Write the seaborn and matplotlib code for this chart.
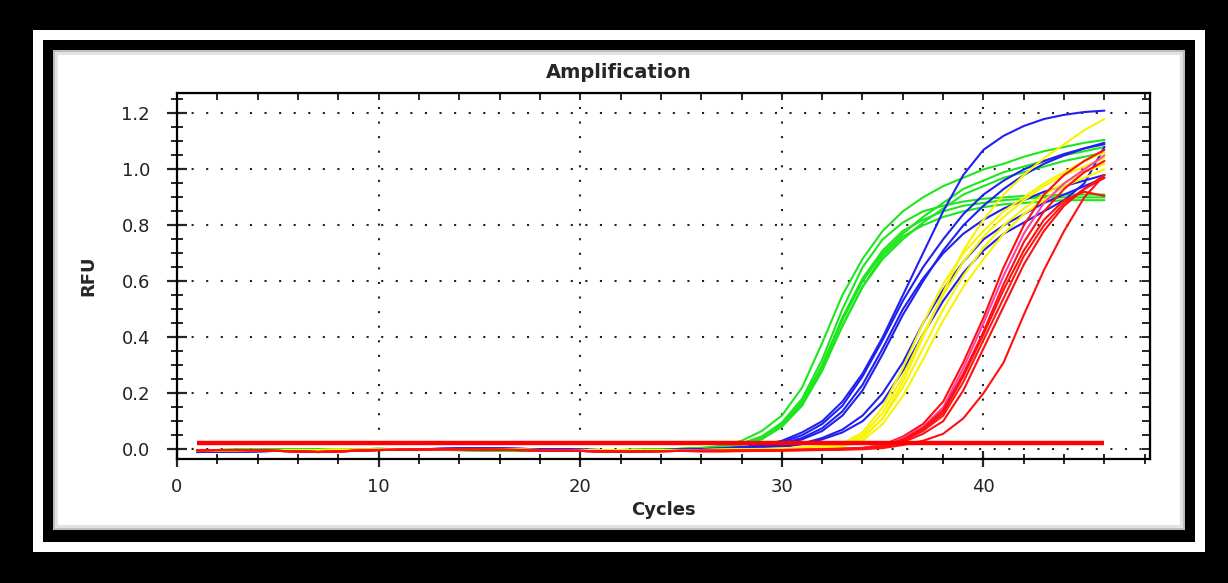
import numpy as np
import pandas as pd
import matplotlib
matplotlib.use("Agg")
import matplotlib.pyplot as plt
import seaborn as sns
from matplotlib.patches import Rectangle
from matplotlib.ticker import MultipleLocator

cycles = list(range(1, 47))
threshold = 0.022

# baseline readings, cycles 1-25, one per dye
base_green = [-0.004, -0.003, -0.002, -0.002, -0.001, -0.001, 0.0, 0.0, 0.0, 0.001, 0.0, -0.001, -0.002,
              -0.003, -0.004, -0.005, -0.005, -0.005, -0.005, -0.004, -0.004, -0.003, -0.002, -0.001, 0.001]
base_blue = [-0.010, -0.009, -0.008, -0.007, -0.006, -0.005, -0.004, -0.003, -0.002, -0.002, -0.001, 0.0, 0.001,
             0.002, 0.002, 0.002, 0.001, 0.0, -0.001, -0.002, -0.003, -0.003, -0.003, -0.003, -0.002]
base_yellow = [-0.006, -0.005, -0.005, -0.004, -0.004, -0.003, -0.003, -0.002, -0.002, -0.002, -0.001, -0.001, 0.0,
               0.0, 0.0, -0.001, -0.002, -0.003, -0.004, -0.005, -0.005, -0.005, -0.004, -0.004, -0.003]
base_red = [-0.004, -0.003, -0.003, -0.004, -0.006, -0.008, -0.010, -0.008, -0.005, -0.003, -0.002, -0.001, 0.0,
            0.0, -0.001, -0.002, -0.003, -0.004, -0.005, -0.006, -0.008, -0.009, -0.008, -0.007, -0.006]

# readings, cycles 26-46
green_rise = [
    [0.005, 0.012, 0.03, 0.065, 0.12, 0.22, 0.38, 0.55, 0.68, 0.78, 0.85, 0.90, 0.94, 0.97, 1.0, 1.02, 1.045, 1.065, 1.08, 1.095, 1.105],
    [0.003, 0.008, 0.02, 0.045, 0.09, 0.17, 0.30, 0.46, 0.60, 0.70, 0.77, 0.83, 0.88, 0.93, 0.96, 0.99, 1.01, 1.03, 1.05, 1.065, 1.08],
    [0.003, 0.007, 0.018, 0.04, 0.085, 0.16, 0.29, 0.44, 0.58, 0.68, 0.75, 0.81, 0.86, 0.91, 0.94, 0.97, 0.99, 1.01, 1.03, 1.045, 1.06],
    [0.003, 0.008, 0.02, 0.045, 0.095, 0.18, 0.32, 0.50, 0.65, 0.75, 0.81, 0.85, 0.87, 0.885, 0.895, 0.90, 0.905, 0.905, 0.91, 0.91, 0.91],
    [0.003, 0.007, 0.02, 0.04, 0.085, 0.165, 0.30, 0.47, 0.61, 0.71, 0.78, 0.82, 0.85, 0.87, 0.88, 0.89, 0.895, 0.90, 0.90, 0.90, 0.90],
    [0.002, 0.006, 0.015, 0.035, 0.08, 0.155, 0.28, 0.44, 0.58, 0.69, 0.76, 0.80, 0.83, 0.85, 0.865, 0.875, 0.88, 0.885, 0.89, 0.89, 0.89],
]
blue_rise = [
    [0.0, 0.003, 0.008, 0.015, 0.03, 0.06, 0.10, 0.17, 0.27, 0.40, 0.55, 0.70, 0.85, 0.98, 1.07, 1.12, 1.155, 1.18, 1.195, 1.205, 1.21],
    [0.0, 0.002, 0.006, 0.012, 0.025, 0.05, 0.09, 0.155, 0.26, 0.39, 0.53, 0.65, 0.75, 0.84, 0.91, 0.96, 1.0, 1.03, 1.055, 1.075, 1.09],
    [0.0, 0.002, 0.005, 0.01, 0.02, 0.04, 0.075, 0.135, 0.23, 0.36, 0.50, 0.61, 0.70, 0.77, 0.82, 0.86, 0.89, 0.92, 0.94, 0.96, 0.98],
    [-0.002, 0.0, 0.004, 0.008, 0.015, 0.035, 0.065, 0.12, 0.21, 0.34, 0.48, 0.60, 0.71, 0.80, 0.87, 0.93, 0.98, 1.02, 1.05, 1.075, 1.095],
    [-0.003, -0.002, 0.0, 0.004, 0.01, 0.02, 0.04, 0.07, 0.12, 0.20, 0.31, 0.45, 0.57, 0.67, 0.75, 0.80, 0.84, 0.88, 0.91, 0.94, 0.97],
    [-0.004, -0.003, -0.001, 0.003, 0.008, 0.018, 0.035, 0.06, 0.10, 0.17, 0.28, 0.41, 0.53, 0.63, 0.71, 0.77, 0.81, 0.85, 0.89, 0.95, 1.08],
]
yellow_rise = [
    [-0.003, -0.002, 0.0, 0.0, 0.002, 0.005, 0.008, 0.015, 0.04, 0.11, 0.24, 0.40, 0.56, 0.71, 0.82, 0.91, 0.98, 1.04, 1.09, 1.14, 1.18],
    [-0.003, -0.002, 0.0, 0.001, 0.003, 0.006, 0.01, 0.02, 0.06, 0.15, 0.29, 0.45, 0.59, 0.70, 0.78, 0.85, 0.90, 0.95, 0.99, 1.03, 1.06],
    [-0.003, -0.002, -0.001, 0.0, 0.002, 0.005, 0.008, 0.015, 0.05, 0.13, 0.26, 0.41, 0.55, 0.67, 0.76, 0.83, 0.89, 0.94, 0.98, 1.01, 1.04],
    [-0.003, -0.002, -0.001, 0.0, 0.001, 0.004, 0.007, 0.012, 0.04, 0.11, 0.22, 0.36, 0.50, 0.62, 0.72, 0.80, 0.86, 0.91, 0.95, 0.99, 1.02],
    [-0.003, -0.002, -0.002, -0.001, 0.0, 0.003, 0.005, 0.01, 0.03, 0.09, 0.19, 0.32, 0.46, 0.58, 0.68, 0.77, 0.84, 0.89, 0.94, 0.97, 1.0],
]
red_rise = [
    [-0.005, -0.006, -0.005, -0.004, -0.003, -0.002, 0.0, 0.002, 0.005, 0.015, 0.045, 0.09, 0.17, 0.31, 0.47, 0.65, 0.80, 0.91, 0.98, 1.03, 1.07],
    [-0.005, -0.005, -0.005, -0.004, -0.003, -0.002, 0.0, 0.002, 0.004, 0.012, 0.04, 0.08, 0.15, 0.29, 0.45, 0.62, 0.77, 0.88, 0.95, 1.0, 1.05],
    [-0.006, -0.006, -0.005, -0.004, -0.003, -0.002, -0.001, 0.001, 0.004, 0.01, 0.035, 0.075, 0.14, 0.27, 0.42, 0.59, 0.74, 0.85, 0.93, 0.99, 1.03],
    [-0.006, -0.006, -0.006, -0.005, -0.004, -0.003, -0.001, 0.001, 0.003, 0.008, 0.03, 0.065, 0.12, 0.24, 0.39, 0.54, 0.69, 0.80, 0.88, 0.93, 0.98],
    [-0.007, -0.007, -0.006, -0.005, -0.004, -0.003, -0.002, 0.0, 0.002, 0.006, 0.025, 0.055, 0.10, 0.21, 0.36, 0.51, 0.66, 0.78, 0.87, 0.93, 0.97],
    [-0.005, -0.005, -0.004, -0.004, -0.003, -0.002, -0.001, 0.001, 0.003, 0.009, 0.032, 0.07, 0.13, 0.26, 0.41, 0.57, 0.71, 0.82, 0.89, 0.92, 0.905],
    [-0.008, -0.008, -0.007, -0.006, -0.005, -0.004, -0.003, -0.002, 0.0, 0.004, 0.015, 0.03, 0.055, 0.11, 0.20, 0.31, 0.48, 0.64, 0.78, 0.90, 0.98],
]
red_colors = ["#ff1010", "#ff40a8", "#ff1010", "#ff1818", "#ff1010", "#ff1010", "#ff1010"]

rows = []
palette = {}
order = []
for name, base, rises, cols in [
    ("G", base_green, green_rise, ["#1ee61e"] * len(green_rise)),
    ("B", base_blue, blue_rise, ["#2020f0"] * len(blue_rise)),
    ("Y", base_yellow, yellow_rise, ["#f8f400"] * len(yellow_rise)),
    ("R", base_red, red_rise, red_colors),
]:
    for i, r in enumerate(rises):
        well = f"{name}{i + 1}"
        for c, v in zip(cycles, base + r):
            rows.append((well, c, v))
        palette[well] = cols[i]
        order.append(well)
df = pd.DataFrame(rows, columns=["well", "cycle", "rfu"])

sns.set_style("ticks")
plt.rcParams["font.family"] = ["DejaVu Sans"]

fig = plt.figure(figsize=(12.28, 5.83), dpi=100)
fig.patch.set_facecolor("black")
W, H = 1228, 583


def frame(x0, y0, x1, y1, color):
    fig.add_artist(Rectangle((x0 / W, 1 - y1 / H), (x1 - x0) / W, (y1 - y0) / H,
                             transform=fig.transFigure, facecolor=color, edgecolor="none", zorder=-10))


frame(33, 30, 1205, 552, "white")
frame(43, 40, 1195, 542, "black")
frame(53, 50, 1185, 530, "#bdbdbd")
frame(55, 52, 1183, 528, "#e2e2e2")
frame(58, 55, 1180, 525, "white")

ax = fig.add_axes([177 / W, 1 - 459 / H, (1150 - 177) / W, (459 - 93) / H])
ax.set_facecolor("white")

sns.lineplot(data=df, x="cycle", y="rfu", hue="well", hue_order=order, palette=palette,
             estimator=None, legend=False, linewidth=1.5, sort=False, ax=ax)
ax.hlines(threshold, cycles[0], cycles[-1], color="#ff0000", linewidth=3.2, zorder=5)

ax.set_xlim(0, 48.26)
ax.set_ylim(-0.035, 1.273)
ax.xaxis.set_major_locator(MultipleLocator(10))
ax.xaxis.set_minor_locator(MultipleLocator(2))
ax.yaxis.set_major_locator(MultipleLocator(0.2))
ax.yaxis.set_minor_locator(MultipleLocator(0.05))
ax.yaxis.set_major_formatter(matplotlib.ticker.FormatStrFormatter("%.1f"))

ax.grid(True, which="major", color="#222222", linestyle=(0, (1, 6)), linewidth=1.5)
for s in ax.spines.values():
    s.set_linewidth(1.6)
    s.set_color("black")

ax.tick_params(which="major", axis="x", direction="inout", length=11, width=1.6, pad=8,
               labelsize=13, labelcolor="#222222", top=False)
ax.tick_params(which="minor", axis="x", direction="inout", length=7, width=1.4, top=False)
ax.tick_params(which="major", axis="y", direction="inout", length=15, width=1.6, pad=12,
               labelsize=13, labelcolor="#222222", right=False)
ax.tick_params(which="minor", axis="y", direction="inout", length=9, width=1.4, right=False)

# inward ticks on the top and right edges
top = ax.secondary_xaxis("top")
top.xaxis.set_major_locator(MultipleLocator(2))
top.tick_params(direction="in", length=5, width=1.4, labeltop=False)
right = ax.secondary_yaxis("right")
right.yaxis.set_major_locator(MultipleLocator(0.05))
right.tick_params(direction="in", length=6, width=1.4, labelright=False)

ax.set_xlabel("")
ax.set_ylabel("")

fig.text(619 / W, 1 - 73 / H, "Amplification", ha="center", va="center", fontsize=14, fontweight="bold")
fig.text(663 / W, 1 - 510 / H, "Cycles", ha="center", va="center", fontsize=13, fontweight="bold")
fig.text(88 / W, 1 - 276 / H, "RFU", ha="center", va="center", fontsize=13, fontweight="bold", rotation=90)

fig.savefig("out.png", dpi=100, facecolor=fig.get_facecolor())
